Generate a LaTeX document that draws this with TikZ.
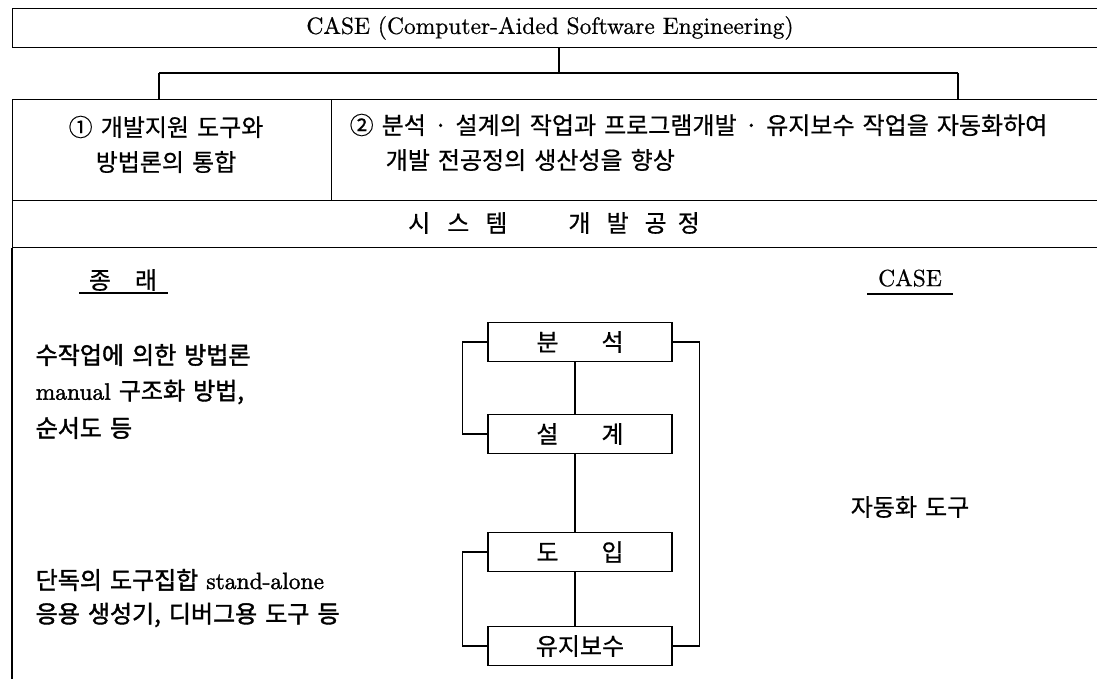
\documentclass[tikz,border=0pt]{standalone}
\usepackage{fontspec}
\newfontfamily\kr{Noto Sans CJK KR}[FakeBold=0.6,WordSpace=1.5]
\newfontfamily\krb{Noto Sans CJK KR}[FakeBold=1.6,WordSpace=1.5]
\newfontfamily\lmten{lmroman10-regular}[Extension=.otf,FakeBold=0.7]
\newfontfamily\lmtenb{lmroman10-regular}[Extension=.otf,FakeBold=1.6]
\begin{document}
\begin{tikzpicture}[x=1pt,y=-1pt,line width=1.4pt,
  frame/.style={draw,inner sep=0pt,anchor=north west},
  stepbox/.style={draw,inner sep=0pt,minimum width=184pt,minimum height=39pt,font=\kr\fontsize{24}{28}\selectfont},
  kt/.style={font=\kr\fontsize{24}{28}\selectfont,inner sep=0pt},
  kb/.style={font=\krb\fontsize{24}{28}\selectfont,inner sep=0pt,anchor=west},
  lt/.style={font=\lmten\fontsize{23.5}{27}\selectfont,inner sep=0pt}]
\useasboundingbox (0,0) rectangle (1097,679);
\clip (0,0) rectangle (1097,679);
% top box
\node[frame,minimum width=1110pt,minimum height=39pt] (top) at (12,8) {};
\node[lt] (toptxt) at (550,28) {CASE (Computer-Aided Software Engineering)};
% row 2
\node[frame,minimum width=319pt,minimum height=101pt] (cA) at (12,99) {};
\node[frame,minimum width=790pt,minimum height=101pt] (cB) at (331,99) {};
% row 3
\node[frame,minimum width=1110pt,minimum height=47pt] (r3) at (12,200) {};
\coordinate (lb) at (12,700);
\draw (r3.south west) -- (lb);
% connectors
\coordinate (jc) at (559,73);
\coordinate (jl) at (159,73);
\coordinate (jr) at (958,73);
\draw (top.south -| jc) -- (jc);
\draw (jl) -- (jr);
\draw (jl) -- (jl |- cA.north);
\draw (jr) -- (jr |- cB.north);
% row 2 texts
\node[kt] (a1) at (166,127) {① 개발지원 도구와};
\node[kt] (a2) at (166,162) {방법론의 통합};
\node[kt,anchor=west] (b1) at (349,125) {② 분석 · 설계의 작업과 프로그램개발 · 유지보수 작업을 자동화하여};
\node[kt,anchor=west] (b2) at (385,160) {개발 전공정의 생산성을 향상};
% row 3 text
\node[kt] (r3t) at (554,223) {시\hspace{17pt}스\hspace{16pt}템\hspace{61pt}개\hspace{16pt}발\hspace{16pt}공\hspace{11pt}정};
% headings
\node[kt] (old) at (123,280) {종\hspace{24pt}래};
\draw (79,293) -- (168,293);
\node[lt] (casel) at (910,278) {CASE};
\draw (867,294) -- (953,294);
% left texts
\node[kb] (l1) at (35,355) {수작업에 의한 방법론};
\node[kb] (l2) at (35,392) {{\lmtenb\fontsize{23.5}{27}\selectfont manual} 구조화 방법,};
\node[kb] (l3) at (35,428) {순서도 등};
\node[kb] (l4) at (35,580) {단독의 도구집합 {\lmtenb\fontsize{23.5}{27}\selectfont stand-alone}};
\node[kb] (l5) at (35,615) {응용 생성기, 디버그용 도구 등};
% right text
\node[kt] (auto) at (910,507) {자동화 도구};
% flow chart
\node[stepbox] (an) at (580,342) {분\hspace{43pt}석};
\node[stepbox] (sg) at (580,434) {설\hspace{43pt}계};
\node[stepbox] (di) at (580,552) {도\hspace{43pt}입};
\node[stepbox] (yj) at (580,646) {유지보수};
\draw ([xshift=-5pt]an.south) -- ([xshift=-5pt]sg.north);
\draw ([xshift=-5pt]sg.south) -- ([xshift=-5pt]di.north);
\draw ([xshift=-5pt]di.south) -- ([xshift=-5pt]yj.north);
\draw (an.west) -- ++(-25,0) |- (sg.west);
\draw (di.west) -- ++(-25,0) |- (yj.west);
\draw (an.east) -- ++(27,0) |- (yj.east);
\end{tikzpicture}
\end{document}
